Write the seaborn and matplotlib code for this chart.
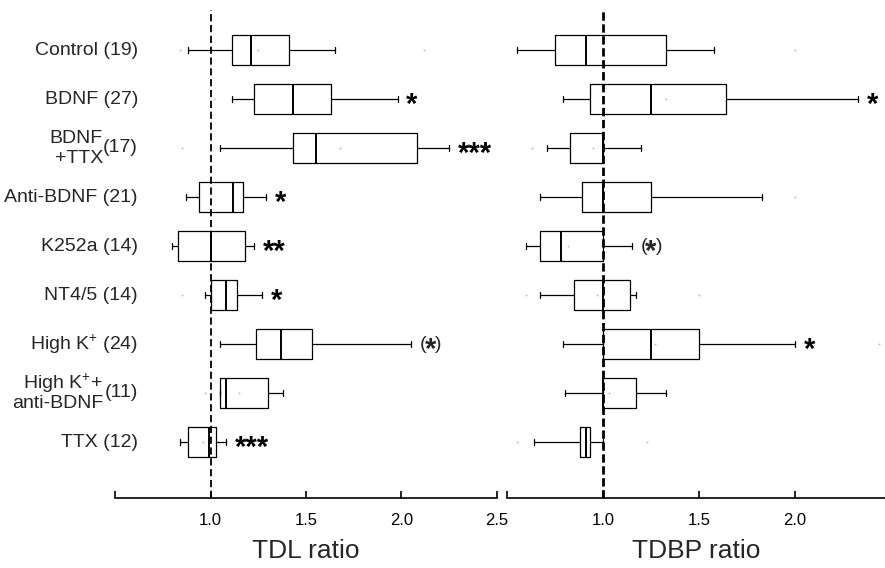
import numpy as np
import pandas as pd
import matplotlib
matplotlib.use("Agg")
import matplotlib.pyplot as plt
import seaborn as sns

# ── data ──────────────────────────────────────────────────────────────────────

groups = ["Control", "BDNF", "BDNF+TTX", "Anti-BDNF", "K252a",
          "NT4/5", "High K+", "High K+ anti-BDNF", "TTX"]

# row labels: (text lines, n)
label_lines = [["Control (19)"], ["BDNF (27)"], ["BDNF", "+TTX"], ["Anti-BDNF (21)"],
               ["K252a (14)"], ["NT4/5 (14)"], [r"High K$^{+}$ (24)"],
               [r"High K$^{+}$+", "anti-BDNF"], ["TTX (12)"]]
label_n = ["", "", "(17)", "", "", "", "", "(11)", ""]

# TDL ratio: whisker low, Q1, median, Q3, whisker high
tdl_lo  = [0.88, 1.11, 1.05, 0.87, 0.80, 0.97, 1.05, 1.05, 0.84]
tdl_q1  = [1.11, 1.23, 1.43, 0.94, 0.83, 1.00, 1.24, 1.05, 0.88]
tdl_med = [1.21, 1.43, 1.55, 1.12, 1.00, 1.08, 1.37, 1.08, 0.99]
tdl_q3  = [1.41, 1.63, 2.08, 1.17, 1.18, 1.14, 1.53, 1.30, 1.03]
tdl_hi  = [1.65, 1.98, 2.25, 1.29, 1.23, 1.27, 2.05, 1.38, 1.08]
tdl_sig = ["", "*", "***", "*", "**", "*", "(*)", "", "***"]

# TDBP ratio
tdbp_lo  = [0.55, 0.79, 0.71, 0.67, 0.60, 0.67, 0.79, 0.80, 0.64]
tdbp_q1  = [0.75, 0.93, 0.83, 0.89, 0.67, 0.85, 1.00, 1.00, 0.88]
tdbp_med = [0.91, 1.25, 1.00, 1.00, 0.78, 1.00, 1.25, 1.00, 0.91]
tdbp_q3  = [1.33, 1.64, 1.00, 1.25, 1.00, 1.14, 1.50, 1.17, 0.93]
tdbp_hi  = [1.58, 2.33, 1.20, 1.83, 1.15, 1.17, 2.00, 1.33, 1.00]
tdbp_sig = ["", "*", "", "", "(*)", "", "*", "", ""]

# faint extra points (means / outliers)
tdl_dot_grp = ["Control", "Control", "Control", "BDNF", "BDNF+TTX", "BDNF+TTX",
               "NT4/5", "High K+ anti-BDNF", "High K+ anti-BDNF", "TTX"]
tdl_dot_val = [0.84, 1.25, 2.12, 1.02, 0.85, 1.68, 0.85, 0.97, 1.15, 0.96]
tdbp_dot_grp = ["Control", "BDNF", "BDNF+TTX", "BDNF+TTX", "Anti-BDNF", "K252a",
                "NT4/5", "NT4/5", "NT4/5", "High K+", "High K+",
                "High K+ anti-BDNF", "TTX", "TTX"]
tdbp_dot_val = [2.00, 1.33, 0.63, 0.95, 2.00, 0.82, 0.60, 0.97, 1.50,
                1.27, 2.44, 1.03, 0.55, 1.23]

# ── style ─────────────────────────────────────────────────────────────────────

sns.set_style("white")
plt.rcParams["font.family"] = ["Liberation Sans", "DejaVu Sans"]
plt.rcParams["mathtext.fontset"] = "custom"
plt.rcParams["mathtext.rm"] = "Liberation Sans"
plt.rcParams["mathtext.it"] = "Liberation Sans:italic"
plt.rcParams["mathtext.bf"] = "Liberation Sans:bold"

fig = plt.figure(figsize=(8.85, 5.68), dpi=100)
ax1 = fig.add_axes([115 / 885, 70 / 568, 382 / 885, 488 / 568])
ax2 = fig.add_axes([507 / 885, 70 / 568, 378 / 885, 488 / 568])

STAR_SIZE = 21
STAR_DROP = 0.125   # asterisk glyph sits high, push it down to the row centre


def mark(ax, x, y, s):
    if s.startswith("("):
        # parentheses normal size, star large and bold
        kw = dict(textcoords="offset points", va="center", ha="left",
                  annotation_clip=False)
        ax.annotate("(", (x, y), xytext=(0, 0), fontsize=14, **kw)
        ax.annotate("*", (x, y + STAR_DROP), xytext=(3.6, 0),
                    fontsize=STAR_SIZE, fontweight="bold", **kw)
        ax.annotate(")", (x, y), xytext=(11.2, 0), fontsize=14, **kw)
    else:
        ax.text(x, y + STAR_DROP, s, ha="left", va="center",
                fontsize=STAR_SIZE, fontweight="bold", color="black")


def draw_panel(ax, lo, q1, med, q3, hi, sig, dot_grp, dot_val, xlim, ticks,
               ticklabels, xlabel, dash_lw, dashes):
    # five values per group -> quartiles and min/max reproduce the box exactly
    df = pd.DataFrame({
        "group": np.repeat(groups, 5),
        "value": np.column_stack([lo, q1, med, q3, hi]).ravel(),
    })
    sns.boxplot(data=df, x="value", y="group", order=groups, orient="h",
                whis=(0, 100), width=0.62, fill=False, color="black",
                saturation=1, linewidth=0.9, showfliers=False,
                capwidths=0.13, medianprops={"linewidth": 1.4}, ax=ax)

    dots = pd.DataFrame({"pos": [groups.index(g) for g in dot_grp], "val": dot_val})
    sns.scatterplot(data=dots, x="val", y="pos", color="0.75", s=2,
                    linewidth=0, ax=ax, zorder=1)

    ax.axvline(1.0, color="black", lw=dash_lw, ls=(0, dashes), zorder=5)

    for i, s in enumerate(sig):
        if s:
            mark(ax, hi[i] + 0.045, i, s)

    ax.set_xlim(*xlim)
    ax.set_ylim(9.14, -0.82)
    ax.set_yticks([])
    ax.set_ylabel("")
    ax.set_xticks(ticks)
    ax.set_xticklabels(ticklabels)
    ax.tick_params(axis="x", bottom=True, direction="in", length=5, width=1.2,
                   labelsize=12, pad=11, colors="black")
    ax.set_xlabel(xlabel, fontsize=19, labelpad=8)
    for side in ["left", "right", "top"]:
        ax.spines[side].set_visible(False)
    ax.spines["bottom"].set_color("black")
    ax.spines["bottom"].set_linewidth(1.2)


draw_panel(ax1, tdl_lo, tdl_q1, tdl_med, tdl_q3, tdl_hi, tdl_sig,
           tdl_dot_grp, tdl_dot_val, (0.5, 2.5), [0.5, 1.0, 1.5, 2.0, 2.5],
           ["", "1.0", "1.5", "2.0", "2.5"], "TDL ratio", 1.3, (4, 2))
draw_panel(ax2, tdbp_lo, tdbp_q1, tdbp_med, tdbp_q3, tdbp_hi, tdbp_sig,
           tdbp_dot_grp, tdbp_dot_val, (0.5, 2.47), [0.5, 1.0, 1.5, 2.0],
           ["", "1.0", "1.5", "2.0"], "TDBP ratio", 2.0, (3, 1.3))

# ── row labels on the left ───────────────────────────────────────────────────

for i, (lines, n) in enumerate(zip(label_lines, label_n)):
    if len(lines) == 1:
        ax1.text(0.62, i, lines[0], ha="right", va="center", fontsize=14,
                 clip_on=False)
    else:
        ax1.text(0.437, i - 0.2, lines[0], ha="right", va="center",
                 fontsize=14, clip_on=False)
        ax1.text(0.437, i + 0.21, lines[1], ha="right", va="center",
                 fontsize=14, clip_on=False)
        ax1.text(0.62, i - 0.02, n, ha="right", va="center", fontsize=14,
                 clip_on=False)

fig.savefig("out.png", dpi=100)
